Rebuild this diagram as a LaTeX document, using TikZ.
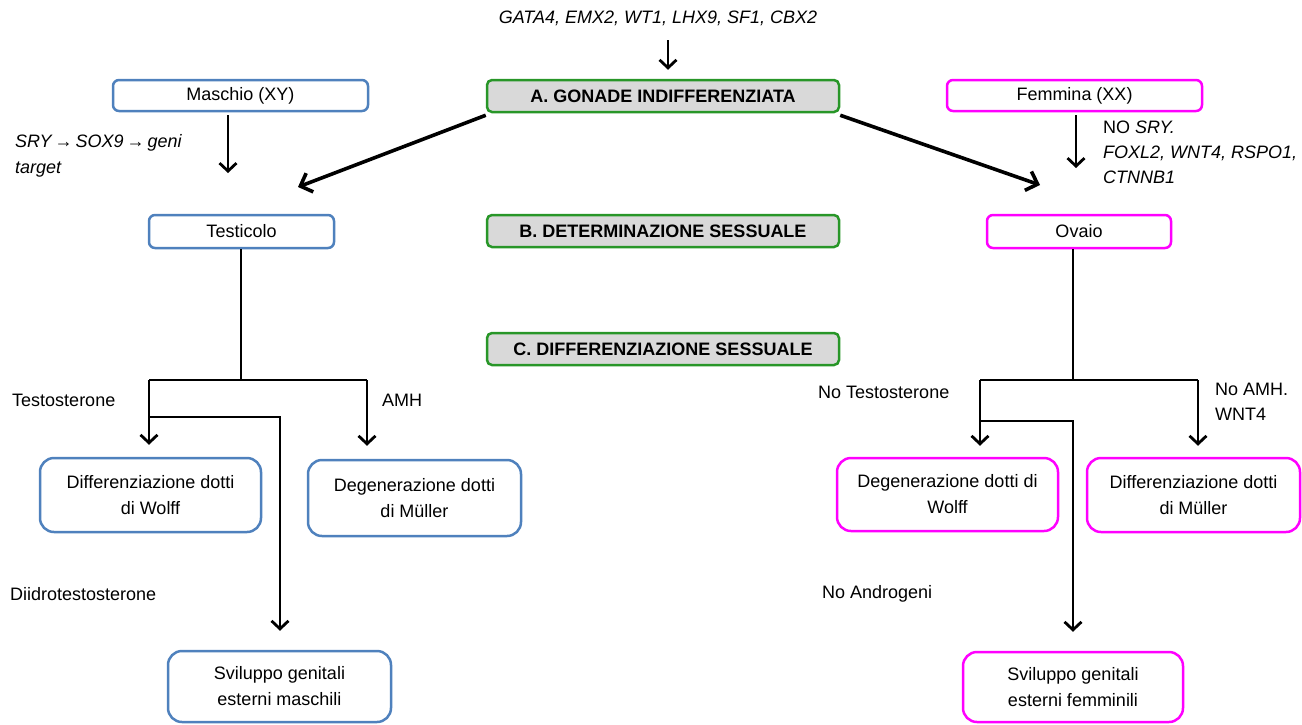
\documentclass[tikz,border=0pt]{standalone}
\usepackage{fontspec}
\setmainfont{Liberation Sans}
\usetikzlibrary{arrows.meta}
\definecolor{bl}{RGB}{79,129,189}
\definecolor{gr}{RGB}{40,150,40}
\definecolor{mg}{RGB}{255,0,255}
\definecolor{gy}{RGB}{217,217,217}
\begin{document}
\begin{tikzpicture}[x=1pt,y=-1pt,
  txt/.style={font=\fontsize{18}{26}\selectfont},
  box/.style={txt, rounded corners=6pt, line width=2.5pt, fill=white, inner sep=0pt, align=center},
  bluebox/.style={box, draw=bl},
  pinkbox/.style={box, draw=mg},
  bigbox/.style={rounded corners=14pt},
  stagebox/.style={box, draw=gr, fill=gy, font=\fontsize{18}{22}\selectfont\bfseries, rounded corners=5pt},
  ln/.style={line width=2.8pt},
  arr/.style={line width=2.8pt, -{Straight Barb[length=8pt,width=17pt]}},
  diag/.style={line width=3.6pt, -{Straight Barb[length=10pt,width=20pt]}},
  lbl/.style={txt, inner sep=0pt, anchor=west},
  lblm/.style={txt, inner sep=0pt, anchor=north west, align=left},
]
\useasboundingbox (0,0) rectangle (1302,724);

% stage boxes
\node[stagebox, minimum width=352, minimum height=32] (A) at (663,96) {A. GONADE INDIFFERENZIATA};
\node[stagebox, minimum width=352, minimum height=32] (B) at (663,231) {B. DETERMINAZIONE SESSUALE};
\node[stagebox, minimum width=352, minimum height=32] (C) at (663,349) {C. DIFFERENZIAZIONE SESSUALE};

% top genes
\node[txt, inner sep=0pt, font=\fontsize{18}{22}\selectfont\itshape] (genes) at (658,18) {GATA4, EMX2, WT1, LHX9, SF1, CBX2};
\coordinate (ga) at (668,40);
\draw[arr, shorten >=9pt] (ga) -- (ga |- A.north);

% upper boxes
\node[bluebox, minimum width=255, minimum height=31] (masc) at (240.5,95.5) {Maschio (XY)};
\node[pinkbox, minimum width=255, minimum height=31] (femm) at (1074.5,95.5) {Femmina (XX)};
\node[bluebox, minimum width=185, minimum height=33] (test) at (241.5,231.5) {Testicolo};
\node[pinkbox, minimum width=184, minimum height=33] (ovaio) at (1079,231.5) {Ovaio};

% down arrows from sex boxes
\coordinate (mdown) at (228,173);
\coordinate (fdown) at (1076,168);
\draw[arr, shorten <=3pt] (masc.south -| mdown) -- (mdown);
\draw[arr, shorten <=3pt] (femm.south -| fdown) -- (fdown);

% labels
\node[lblm] (sry) at (15,134) {\itshape SRY\,→\,SOX9\,→\,geni\\\itshape target};
\node[lblm, font=\fontsize{18}{25}\selectfont] (nosry) at (1103,121) {NO \textit{SRY.}\\\textit{FOXL2, WNT4, RSPO1,}\\\textit{CTNNB1}};

% diagonals
\coordinate (dl) at (298,187);
\coordinate (dr) at (1040,185);
\draw[diag] ([yshift=-2pt]A.south west) -- (dl);
\draw[diag] ([yshift=-2pt]A.south east) -- (dr);

% lower boxes left
\node[bluebox, bigbox, minimum width=221, minimum height=74] (wolffM) at (150.5,495) {Differenziazione dotti\\di Wolff};
\node[bluebox, bigbox, minimum width=213, minimum height=76] (mullerM) at (414.5,498) {Degenerazione dotti\\di Müller};
\node[bluebox, bigbox, minimum width=223, minimum height=71] (svilM) at (279.5,686.5) {Sviluppo genitali\\esterni maschili};

% lower boxes right
\node[pinkbox, bigbox, minimum width=221, minimum height=73] (wolffF) at (947.5,494.5) {Degenerazione dotti di\\Wolff};
\node[pinkbox, bigbox, minimum width=213, minimum height=74] (mullerF) at (1193.5,495) {Differenziazione dotti\\di Müller};
\node[pinkbox, bigbox, minimum width=220, minimum height=70] (svilF) at (1073,687) {Sviluppo genitali\\esterni femminili};

% left tree
\coordinate (tj) at (241,380);
\coordinate (tl) at (149,380);
\coordinate (tr) at (367,380);
\coordinate (tb) at (149,417);
\coordinate (tbr) at (280,417);
\draw[ln] (test.south -| tj) -- (tj);
\draw[ln] (tl) -- (tr);
\draw[arr, shorten >=12pt] (tl) -- (tl |- wolffM.north);
\draw[arr, shorten >=13pt] (tr) -- (tr |- mullerM.north);
\draw[arr, shorten >=19pt] (tb) -- (tbr) -- (tbr |- svilM.north);

% right tree
\coordinate (oj) at (1073,380);
\coordinate (ol) at (980,380);
\coordinate (or) at (1198,380);
\coordinate (ob) at (980,421);
\coordinate (obr) at (1073,421);
\draw[ln] (ovaio.south -| oj) -- (oj);
\draw[ln] (ol) -- (or);
\draw[arr, shorten >=11pt] (ol) -- (ol |- wolffF.north);
\draw[arr, shorten >=11pt] (or) -- (or |- mullerF.north);
\draw[arr, shorten >=19pt] (ob) -- (obr) -- (obr |- svilF.north);

% tree labels
\node[lbl] (testo) at (12,400) {Testosterone};
\node[lbl] (amh) at (382,400) {AMH};
\node[lbl] (dht) at (10,594) {Diidrotestosterone};
\node[lbl] (notesto) at (818,392) {No Testosterone};
\node[lblm, font=\fontsize{18}{25}\selectfont] (noamh) at (1215,383) {No AMH.\\WNT4};
\node[lbl] (noandro) at (822,594) {No Androgeni};
\end{tikzpicture}
\end{document}
